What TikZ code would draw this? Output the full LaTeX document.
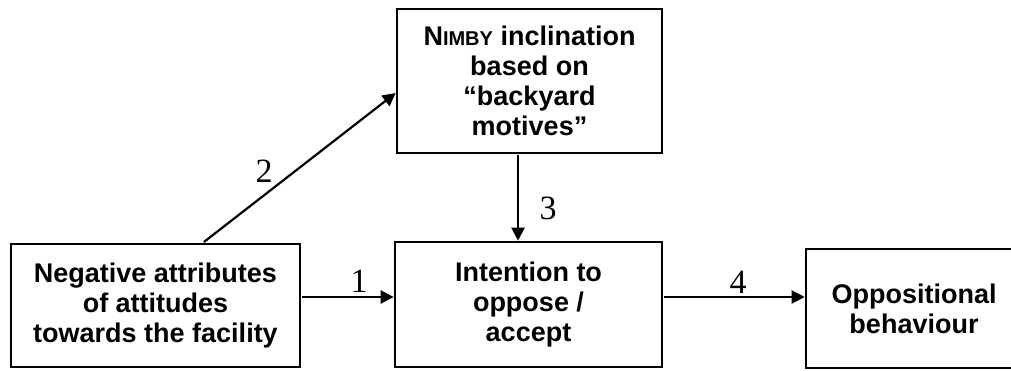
\documentclass[tikz,border=0pt]{standalone}
\usepackage{fontspec}
\setmainfont{Liberation Sans}
\newfontfamily\numfont{Liberation Serif}
\usetikzlibrary{arrows.meta}
\begin{document}
\begin{tikzpicture}[x=1pt,y=1pt,
  box/.style={draw=black, line width=2.6pt, align=center, inner sep=0pt,
    font=\fontsize{27}{30}\selectfont\bfseries},
  conn/.style={line width=2.2pt, -{Triangle[length=13pt,width=13pt]}, shorten <=1pt},
  num/.style={font=\fontsize{34}{34}\selectfont\numfont, inner sep=0pt}]
\useasboundingbox (0,0) rectangle (1011,370);
\node[box, minimum width=289pt, minimum height=123pt] (A) at (155.5,64.5)
  {Negative attributes\\of attitudes\\towards the facility};
\node[box, minimum width=267pt, minimum height=125pt] (C) at (528.5,65.5)
  {Intention to\\oppose /\\accept};
\node[box, minimum width=265pt, minimum height=144pt] (B) at (529.5,289)
  {N{\fontsize{20}{30}\selectfont IMBY} inclination\\based on\\“backyard\\motives”};
\node[box, minimum width=216pt, minimum height=119pt] (D) at (914,61.5)
  {Oppositional\\behaviour};
\coordinate (a1) at ([yshift=8.5pt]A.east);
\coordinate (b3) at ([xshift=-11.5pt]B.south);
\draw[conn] (a1) -- (a1 -| C.west);
\draw[conn] (a1 -| C.east) -- (a1 -| D.west);
\draw[conn] ([xshift=47.5pt]A.north) -- ([yshift=-12pt]B.west);
\draw[conn] (b3) -- (b3 |- C.north);
\node[num] (n1) at (359,88.5) {1};
\node[num] (n2) at (264,199) {2};
\node[num] (n3) at (548,162) {3};
\node[num] (n4) at (738,87.5) {4};
\end{tikzpicture}
\end{document}
